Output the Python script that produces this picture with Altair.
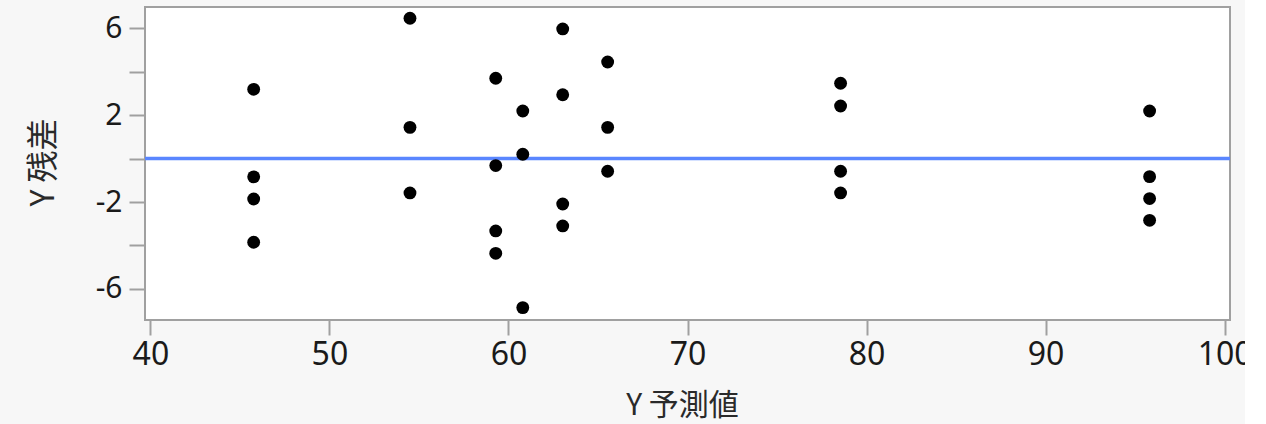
import altair as alt
import pandas as pd

# Predicted values (one per group) and the residuals observed at each
predicted = [45.77, 54.50, 59.29, 60.80, 63.03, 65.54, 78.55, 95.81]
residuals = [
    [3.19, -0.84, -1.86, -3.85],
    [6.46, 1.44, -1.58],
    [3.70, -0.32, -3.33, -4.36],
    [2.19, 0.20, -6.86],
    [5.97, 2.94, -2.09, -3.10],
    [4.45, 1.44, -0.58],
    [3.47, 2.42, -0.58, -1.58],
    [2.19, -0.83, -1.84, -2.84],
]
x_ticks = [40, 50, 60, 70, 80, 90, 100]
y_ticks = [-6, -4, -2, 0, 2, 4, 6]
reference_line = [0]

rows = [
    {"pred": p, "resid": r}
    for p, group in zip(predicted, residuals)
    for r in group
]
df = pd.DataFrame(rows)
ref_df = pd.DataFrame({"resid": reference_line})

LABEL_FONT = "Noto Sans"
TITLE_FONT = "Noto Sans CJK JP"

x_scale = alt.Scale(domain=[39.7, 100.3], nice=False, zero=False)
y_scale = alt.Scale(domain=[-7.43, 6.98], nice=False, zero=False)

# label every other tick on the residual axis, with a plain hyphen for negatives
y_label_expr = (
    "abs(datum.value) % 4 == 2 ? replace(datum.label, '\u2212', '-') : ''"
)

points = alt.Chart(df).mark_circle(size=165, color="black", opacity=1).encode(
    x=alt.X(
        "pred:Q",
        scale=x_scale,
        axis=alt.Axis(
            title="Y 予測値",
            values=x_ticks,
            grid=False,
            domain=False,
            tickColor="#a0a0a0",
            tickWidth=2,
            tickSize=15,
            labelPadding=4,
            labelFont=LABEL_FONT,
            labelFontSize=32,
            labelColor="#1a1a1a",
            titleFont=TITLE_FONT,
            titleFontSize=30,
            titleFontWeight="normal",
            titleColor="#2a2a2a",
            titleBaseline="middle",
            titleY=85,
            titleX=537,
        ),
    ),
    y=alt.Y(
        "resid:Q",
        scale=y_scale,
        axis=alt.Axis(
            title="Y 残差",
            values=y_ticks,
            labelExpr=y_label_expr,
            grid=False,
            domain=False,
            tickColor="#a0a0a0",
            tickWidth=2,
            tickSize=16,
            labelPadding=7,
            labelFont=LABEL_FONT,
            labelFontSize=30,
            labelColor="#1a1a1a",
            titleFont=TITLE_FONT,
            titleFontSize=32,
            titleFontWeight="normal",
            titleColor="#2a2a2a",
            titleBaseline="middle",
            titleX=-102,
            titleY=155,
        ),
    ),
)

zero_line = alt.Chart(ref_df).mark_rule(color="#5a86ff", strokeWidth=3.5).encode(
    y=alt.Y("resid:Q", scale=y_scale)
)

chart = (
    alt.layer(zero_line, points)
    .properties(
        width=1085,
        height=313,
        background="#f7f7f7",
        padding={"left": 145, "top": 7, "right": 15, "bottom": 104},
        autosize=alt.AutoSizeParams(type="none"),
    )
    .configure_view(fill="white", stroke="#a0a0a0", strokeWidth=2)
)

chart.save("out.html", embed_options={"renderer": "svg", "actions": False})
